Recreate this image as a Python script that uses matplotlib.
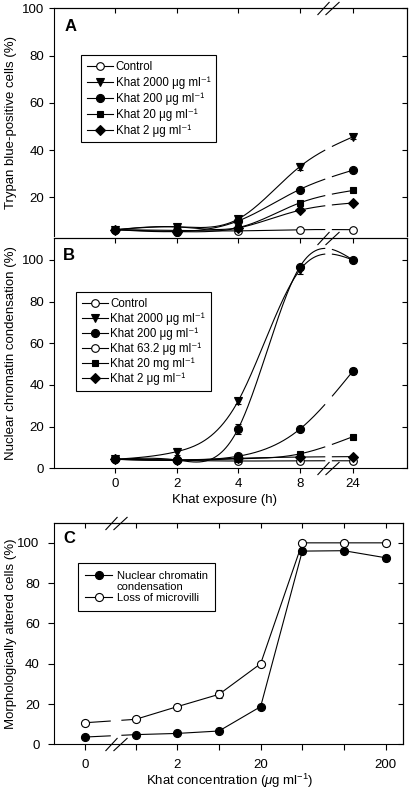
import numpy as np
import matplotlib
matplotlib.use("Agg")
import matplotlib.pyplot as plt
from matplotlib.lines import Line2D
from matplotlib.path import Path

plt.rcParams['font.family'] = ['Liberation Sans', 'DejaVu Sans']
plt.rcParams['mathtext.fontset'] = 'custom'
plt.rcParams['mathtext.rm'] = 'Liberation Sans'
plt.rcParams['mathtext.it'] = 'Liberation Sans:italic'
plt.rcParams['axes.linewidth'] = 0.8

# ---------------- data ----------------
hours = ["0", "2", "4", "8", "24"]

A_control = [6.3, 6.0, 5.8, 6.3, 6.3]
A_k2000 = [6.3, 7.5, 10.8, 32.9, 45.6]
A_k200 = [6.3, 5.5, 10.0, 23.3, 31.5]
A_k20 = [6.3, 7.5, 7.2, 17.6, 22.9]
A_k2 = [6.3, 5.5, 7.0, 14.5, 17.6]
A_k2000_err = [0, 0, 0.8, 1.5, 0.8]

B_control = [4.3, 3.8, 3.5, 3.6, 3.6]
B_k2000 = [4.3, 8.0, 32.3, 95.0, 100.0]
B_k200 = [4.3, 4.0, 19.0, 96.5, 100.0]
B_k632 = [4.3, 4.0, 5.8, 18.7, 46.7]
B_k20 = [4.3, 3.8, 4.5, 6.9, 15.2]
B_k2 = [4.3, 4.0, 4.8, 5.4, 5.6]
B_k2000_err = [0, 1.8, 1.3, 1.5, 0]
B_k200_err = [0, 0.5, 2.5, 1.2, 0.8]
B_k632_err = [0, 0, 0, 0.8, 1.5]
B_k20_err = [0, 0, 0, 0.5, 0.8]

conc_labels = ["0", "", "2", "", "20", "", "", "200"]
C_microvilli = [10.7, 12.4, 18.7, 24.8, 40.0, 100.0, 100.0, 100.0]
C_nuclear = [3.6, 4.8, 5.4, 6.6, 18.7, 95.9, 96.1, 92.6]
C_microvilli_err = [0.8, 0, 0.8, 2.0, 1.0, 0, 0, 0]
C_nuclear_err = [0, 0, 0, 0, 0, 1.5, 1.0, 1.5]

# ---------------- layout ----------------
hour_pos = np.array([0, 1, 2, 3, 3.87])
gapA = (3.41, 3.535)
conc_pos = np.array([-0.22, 1, 2, 3, 4, 5, 6, 7])
gapC = (0.39, 0.67)

W, H = 409, 794
fig = plt.figure(figsize=(W / 100, H / 100), dpi=100)

def ax_rect(l, t, r, b):
    return [l / W, 1 - b / H, (r - l) / W, (b - t) / H]

axA = fig.add_axes(ax_rect(54, 8.3, 407, 236.3))
axB = fig.add_axes(ax_rect(54, 238.3, 407, 468.3))
axC = fig.add_axes(ax_rect(54, 522.7, 402.7, 744.3))

LW = 0.8
FS_TICK = 9.5
FS_LEG = 8.3


def natural_spline(x, y, xs):
    x = np.asarray(x, float); y = np.asarray(y, float)
    n = len(x); h = np.diff(x)
    M = np.zeros((n, n)); r = np.zeros(n)
    M[0, 0] = 1; M[-1, -1] = 1
    for i in range(1, n - 1):
        M[i, i - 1] = h[i - 1]; M[i, i] = 2 * (h[i - 1] + h[i]); M[i, i + 1] = h[i]
        r[i] = 3 * ((y[i + 1] - y[i]) / h[i] - (y[i] - y[i - 1]) / h[i - 1])
    c = np.linalg.solve(M, r)
    b = (y[1:] - y[:-1]) / h - h * (2 * c[:-1] + c[1:]) / 3
    d = (c[1:] - c[:-1]) / (3 * h)
    idx = np.clip(np.searchsorted(x, xs) - 1, 0, n - 2)
    dx = xs - x[idx]
    return y[idx] + b[idx] * dx + c[idx] * dx ** 2 + d[idx] * dx ** 3


def spline_series(ax, y, marker, filled, ms, err=None, z=3, markevery=None):
    xs1 = np.linspace(hour_pos[0], gapA[0], 200)
    xs2 = np.linspace(gapA[1], hour_pos[-1], 40)
    ax.plot(xs1, natural_spline(hour_pos, y, xs1), color='k', lw=LW, zorder=2)
    ax.plot(xs2, natural_spline(hour_pos, y, xs2), color='k', lw=LW, zorder=2)
    if err is not None:
        ax.errorbar(hour_pos, y, yerr=err, fmt='none', ecolor='k', elinewidth=LW,
                    capsize=2, capthick=LW, zorder=z)
    ax.plot(hour_pos, y, ls='none', marker=marker, ms=ms, mec='k', mew=LW,
            mfc='k' if filled else 'white', zorder=z + 0.5, markevery=markevery)


def straight_series(ax, y, marker, filled, ms, err):
    y = np.asarray(y, float)
    x = conc_pos
    ax.plot([x[0], gapC[0]], [y[0], np.interp(gapC[0], x, y)], color='k', lw=LW, zorder=2)
    ax.plot(np.r_[gapC[1], x[1:]], np.r_[np.interp(gapC[1], x, y), y[1:]],
            color='k', lw=LW, zorder=2)
    ax.errorbar(x, y, yerr=err, fmt='none', ecolor='k', elinewidth=LW,
                capsize=2, capthick=LW, zorder=3)
    ax.plot(x, y, ls='none', marker=marker, ms=ms, mec='k', mew=LW,
            mfc='k' if filled else 'white', zorder=4)


def style_axes(ax, xticks, xlabels, yticks, show_bottom=True, outpad=3.5, outlen=3.6):
    ax.set_yticks(yticks)
    ax.tick_params(axis='y', direction='out', length=outlen, width=LW,
                   labelsize=FS_TICK, pad=outpad)
    secy = ax.secondary_yaxis('right')
    secy.set_yticks(yticks)
    secy.tick_params(direction='in', length=3.5, width=LW, labelright=False)
    secy.spines['right'].set_linewidth(LW)
    secx = ax.secondary_xaxis('top')
    secx.set_xticks(xticks)
    secx.tick_params(direction='in', length=3.5, width=LW, labeltop=False)
    secx.spines['top'].set_linewidth(LW)
    ax.set_xticks(xticks)
    if show_bottom:
        ax.set_xticklabels(xlabels)
        ax.tick_params(axis='x', direction='out', length=outlen, width=LW,
                       labelsize=FS_TICK, pad=outpad)
    else:
        ax.tick_params(axis='x', bottom=False, labelbottom=False)
        ax.spines['bottom'].set_visible(False)


# break marker "//"
px = 72 / 100
brk_verts = [(-11, -6.5), (1, 6.5), (-3, -6.5), (11, 6.5)]
brk_path = Path(brk_verts, [Path.MOVETO, Path.LINETO, Path.MOVETO, Path.LINETO])
brk_ms = 2 * 11 * px


def break_mark(ax, xdata, yaxes):
    ax.plot([xdata], [yaxes], transform=ax.get_xaxis_transform(), ls='none',
            marker=brk_path, ms=brk_ms, mfc='none', mec='k', mew=LW,
            clip_on=False, zorder=10)


def leg_handle(marker, filled, ms, line=True):
    return Line2D([], [], color='k', lw=LW if line else 0, marker=marker, ms=ms,
                  mec='k', mew=LW, mfc='k' if filled else 'white')


def make_legend(ax, handles, labels, anchor, fs=FS_LEG, ls=0.3, hl=2.3, htp=0.2, bp=0.5):
    leg = ax.legend(handles, labels, loc='upper left', bbox_to_anchor=anchor,
                    borderaxespad=0, fontsize=fs, frameon=True, fancybox=False,
                    edgecolor='k', framealpha=1, handlelength=hl, handletextpad=htp,
                    labelspacing=ls, borderpad=bp)
    leg.get_frame().set_linewidth(LW)
    return leg


mu = "\u03bcg ml\u207b\u00b9"

# ---------------- panel A ----------------
spline_series(axA, A_control, 'o', False, 5.5)
spline_series(axA, A_k2, 'D', True, 4.6)
spline_series(axA, A_k20, 's', True, 5.0)
spline_series(axA, A_k200, 'o', True, 5.8)
spline_series(axA, A_k2000, 'v', True, 5.8, err=A_k2000_err)
axA.set_xlim(-1, 4.75)
axA.set_ylim(3.5, 100)
style_axes(axA, hour_pos, hours, [20, 40, 60, 80, 100], show_bottom=False)
axA.set_ylabel("Trypan blue-positive cells (%)", fontsize=FS_TICK)
axA.yaxis.set_label_coords(-0.105, 0.5)
axA.text(0.031, 0.902, "A", transform=axA.transAxes, fontsize=12,
         fontweight='bold', va='baseline', ha='left')
hA = [leg_handle('o', False, 5.5), leg_handle('v', True, 5.8), leg_handle('o', True, 5.8),
      leg_handle('s', True, 5.0), leg_handle('D', True, 4.6)]
lA = ["Control", "Khat 2000 " + mu, "Khat 200 " + mu, "Khat 20 " + mu, "Khat 2 " + mu]
make_legend(axA, hA, lA, (0.0765, 0.795), ls=0.3)
break_mark(axA, 3.47, 1.0)

# ---------------- panel B ----------------
spline_series(axB, B_control, 'o', False, 5.5)
spline_series(axB, B_k2, 'D', True, 4.6)
spline_series(axB, B_k20, 's', True, 5.0, err=B_k20_err)
spline_series(axB, B_k632, 'o', True, 5.8, err=B_k632_err)
spline_series(axB, B_k2000, 'v', True, 5.8, err=B_k2000_err, markevery=[0, 1, 2, 3])
spline_series(axB, B_k200, 'o', True, 5.8, err=B_k200_err, z=5)
axB.set_xlim(-1, 4.75)
axB.set_ylim(0, 110.4)
style_axes(axB, hour_pos, hours, [0, 20, 40, 60, 80, 100])
axB.set_ylabel("Nuclear chromatin condensation (%)", fontsize=FS_TICK)
axB.yaxis.set_label_coords(-0.105, 0.5)
axB.set_xlabel("Khat exposure (h)", fontsize=FS_TICK)
axB.xaxis.set_label_coords(0.484, -0.11)
axB.text(0.026, 0.906, "B", transform=axB.transAxes, fontsize=12,
         fontweight='bold', va='baseline', ha='left')
hB = [leg_handle('o', False, 5.5), leg_handle('v', True, 5.8), leg_handle('o', True, 5.8),
      leg_handle('o', False, 5.5), leg_handle('s', True, 5.0), leg_handle('D', True, 4.6)]
lB = ["Control", "Khat 2000 " + mu, "Khat 200 " + mu, "Khat 63.2 " + mu,
      "Khat 20 mg ml\u207b\u00b9", "Khat 2 " + mu]
make_legend(axB, hB, lB, (0.062, 0.765), ls=0.22)
break_mark(axB, 3.47, 1.0)
break_mark(axB, 3.47, 0.0)

# ---------------- panel C ----------------
straight_series(axC, C_microvilli, 'o', False, 5.8, C_microvilli_err)
straight_series(axC, C_nuclear, 'o', True, 5.8, C_nuclear_err)
axC.set_xlim(-0.96, 7.41)
axC.set_ylim(0, 110)
style_axes(axC, conc_pos, conc_labels, [0, 20, 40, 60, 80, 100], outpad=6, outlen=4.3)
axC.set_ylabel("Morphologically altered cells (%)", fontsize=FS_TICK)
axC.yaxis.set_label_coords(-0.106, 0.5)
axC.set_xlabel(r"Khat concentration ($\mu$g ml$^{-1}$)", fontsize=FS_TICK)
axC.xaxis.set_label_coords(0.505, -0.125)
axC.text(0.027, 0.907, "C", transform=axC.transAxes, fontsize=12,
         fontweight='bold', va='baseline', ha='left')
hC = [leg_handle('o', True, 5.8), Line2D([], [], lw=0, marker=None),
      leg_handle('o', False, 5.8)]
lC = ["Nuclear chromatin", "condensation", "Loss of microvilli"]
make_legend(axC, hC, lC, (0.068, 0.817), fs=8.0, ls=0.1, hl=2.4, htp=0.4, bp=0.7)

break_mark(axC, 0.53, 1.0)
break_mark(axC, 0.53, 0.0)

fig.savefig("out.png", dpi=100)
